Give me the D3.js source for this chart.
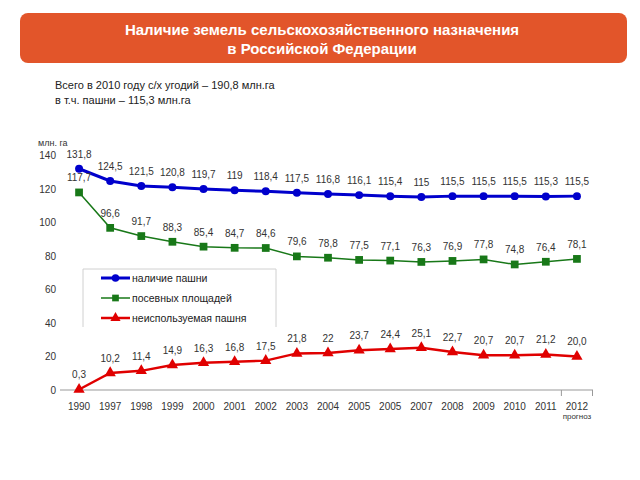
<!DOCTYPE html>
<html>
<head>
<meta charset="utf-8">
<script src="https://cdn.jsdelivr.net/npm/d3@7"></script>
<style>
  body { margin: 0; background: #fff; }
  svg { font-family: "Liberation Sans", Arial, sans-serif; }
</style>
</head>
<body>
<svg id="chart" width="640" height="480"></svg>
<script>
// years (the picture shows "2005" twice)
var years = ["1990","1997","1998","1999","2000","2001","2002","2003","2004","2005","2005","2007","2008","2009","2010","2011","2012"];
var arable = [131.8,124.5,121.5,120.8,119.7,119,118.4,117.5,116.8,116.1,115.4,115,115.5,115.5,115.5,115.3,115.5];
var sown = [117.7,96.6,91.7,88.3,85.4,84.7,84.6,79.6,78.8,77.5,77.1,76.3,76.9,77.8,74.8,76.4,78.1];
var unused = [0.3,10.2,11.4,14.9,16.3,16.8,17.5,21.8,22,23.7,24.4,25.1,22.7,20.7,20.7,21.2,20.0];
var forecastIndex = 16; // 2012 value is a forecast, shown with one decimal
var yTicks = [0,20,40,60,80,100,120,140];
var seriesNames = ["наличие пашни","посевных площадей","неиспользуемая пашня"];

var svg = d3.select("#chart");

// title banner
svg.append("rect")
  .attr("x", 20).attr("y", 13).attr("width", 607).attr("height", 50)
  .attr("rx", 8).attr("fill", "#E2552A");
svg.append("text").attr("x", 322).attr("y", 35)
  .attr("text-anchor", "middle").attr("fill", "#fff")
  .attr("font-weight", "bold").attr("font-size", 15)
  .text("Наличие земель сельскохозяйственного назначения");
svg.append("text").attr("x", 322).attr("y", 54)
  .attr("text-anchor", "middle").attr("fill", "#fff")
  .attr("font-weight", "bold").attr("font-size", 15)
  .text("в Российской Федерации");

svg.append("text").attr("x", 55).attr("y", 89)
  .attr("font-size", 11).attr("fill", "#222")
  .text("Всего в 2010 году с/х угодий – 190,8 млн.га");
svg.append("text").attr("x", 55).attr("y", 104)
  .attr("font-size", 11).attr("fill", "#222")
  .text("в т.ч. пашни – 115,3 млн.га");

var x = d3.scaleBand().domain(d3.range(years.length)).range([63.5, 592.5]);
var y = d3.scaleLinear().domain([0, 140]).range([390, 155]);
function cx(i) { return x(i) + x.bandwidth() / 2; }

// y labels
svg.append("g").selectAll("text").data(yTicks).enter().append("text")
  .attr("x", 56).attr("y", function(d){ return y(d) + 4; })
  .attr("text-anchor", "end").attr("font-size", 10).attr("fill", "#333")
  .text(function(d){ return d; });
svg.append("text").attr("x", 38).attr("y", 146)
  .attr("font-size", 9).attr("fill", "#333").text("млн. га");

// x axis
svg.append("line").attr("x1", 60).attr("x2", 593).attr("y1", 390).attr("y2", 390)
  .attr("stroke", "#999");
[x(years.length - 1), 592.5].forEach(function(t){
  svg.append("line").attr("x1", t).attr("x2", t).attr("y1", 390).attr("y2", 396)
    .attr("stroke", "#999");
});
svg.append("g").selectAll("text").data(years).enter().append("text")
  .attr("x", function(d, i){ return cx(i); }).attr("y", 410)
  .attr("text-anchor", "middle").attr("font-size", 10).attr("fill", "#333")
  .text(function(d){ return d; });
svg.append("text").attr("x", cx(years.length - 1)).attr("y", 419)
  .attr("text-anchor", "middle").attr("font-size", 8).attr("fill", "#333")
  .text("прогноз");

// legend box
var legend = svg.append("g");
legend.append("path").attr("d", "M83,327V269H276V327")
  .attr("fill", "#fff").attr("stroke", "#d0d0d0");

var line = d3.line().x(function(d, i){ return cx(i); }).y(function(d){ return y(d); });

function fmt(d, i) {
  var s = (d % 1 === 0 && i !== forecastIndex) ? String(d) : d.toFixed(1);
  return s.replace(".", ",");
}

function drawSeries(data, color, width, shape, size) {
  svg.append("path").datum(data).attr("d", line)
    .attr("fill", "none").attr("stroke", color).attr("stroke-width", width);
  svg.append("g").selectAll("path").data(data).enter().append("path")
    .attr("transform", function(d, i){ return "translate(" + cx(i) + "," + y(d) + ")"; })
    .attr("d", d3.symbol().type(shape).size(size))
    .attr("fill", color);
  svg.append("g").selectAll("text").data(data).enter().append("text")
    .attr("x", function(d, i){ return cx(i); })
    .attr("y", function(d){ return y(d) - 11; })
    .attr("text-anchor", "middle").attr("font-size", 10).attr("fill", "#333")
    .text(fmt);
}

drawSeries(arable, "#0000CC", 3, d3.symbolCircle, 50);
drawSeries(sown, "#187818", 1.5, d3.symbolSquare, 60);
drawSeries(unused, "#E00000", 2.5, d3.symbolTriangle, 55);

// legend items
var legColors = ["#0000CC", "#187818", "#E00000"];
var legWidths = [3, 1.5, 2.5];
var legShapes = [d3.symbolCircle, d3.symbolSquare, d3.symbolTriangle];
seriesNames.forEach(function(name, i){
  var ly = 278 + i * 20;
  legend.append("line").attr("x1", 101).attr("x2", 130).attr("y1", ly).attr("y2", ly)
    .attr("stroke", legColors[i]).attr("stroke-width", legWidths[i]);
  legend.append("path").attr("transform", "translate(115.5," + ly + ")")
    .attr("d", d3.symbol().type(legShapes[i]).size(45)).attr("fill", legColors[i]);
  legend.append("text").attr("x", 132).attr("y", ly + 4)
    .attr("font-size", 10.5).attr("fill", "#222").text(name);
});
</script>
</body>
</html>
